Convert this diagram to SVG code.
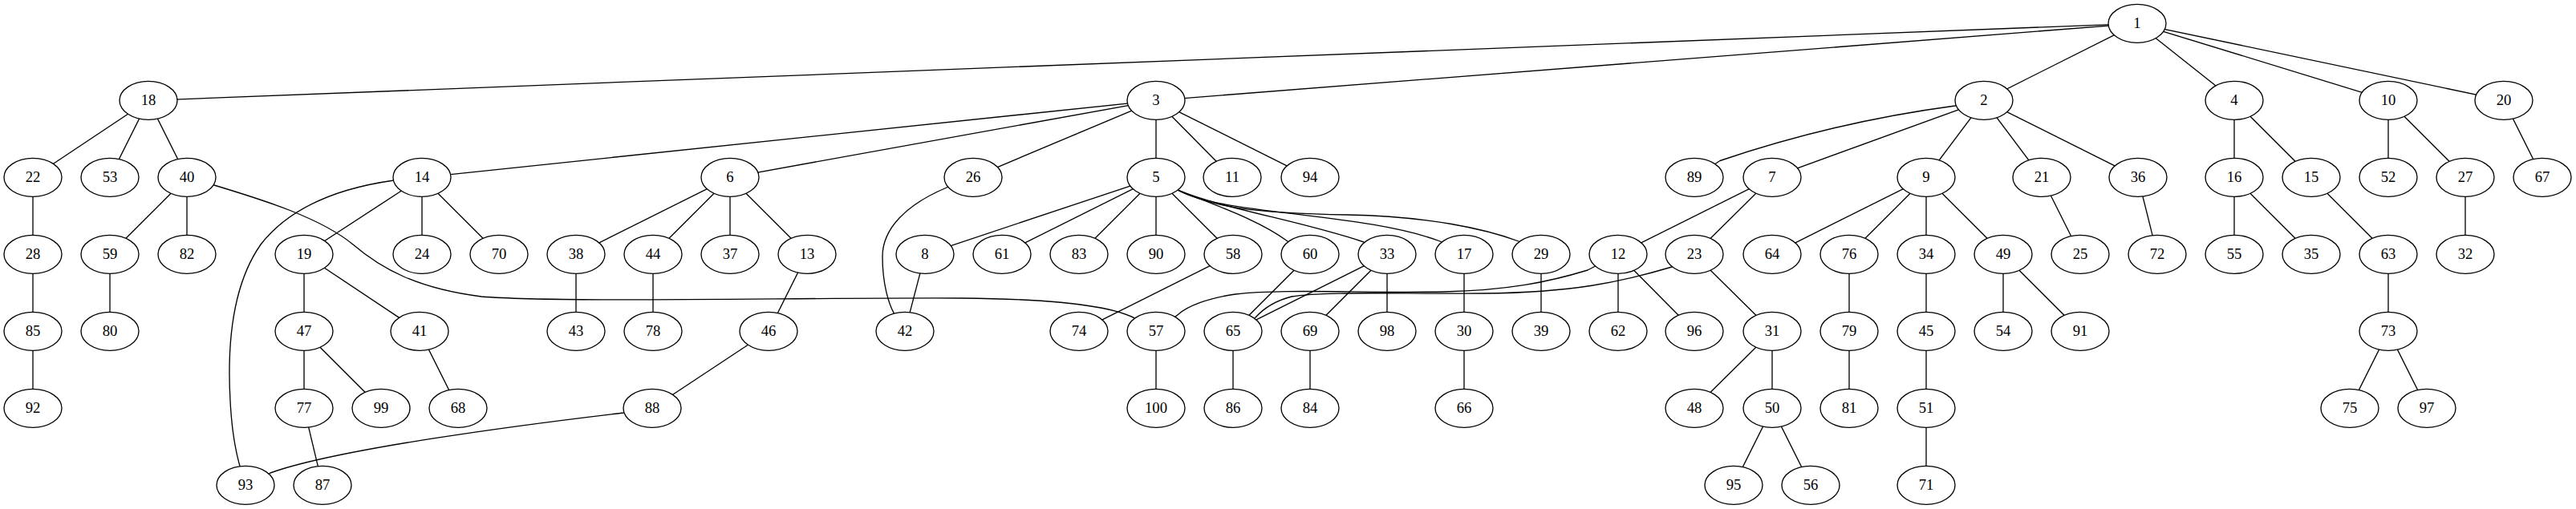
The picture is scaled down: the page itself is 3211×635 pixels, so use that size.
<svg xmlns="http://www.w3.org/2000/svg" width="3211" height="635" viewBox="0 0 3211 635">
<style>
.e path{fill:none;stroke:#000;stroke-width:1.33}
.n ellipse{fill:#fff;stroke:#000;stroke-width:1.33}
.n text{font-family:"Liberation Serif","Times New Roman",serif;font-size:18.67px;text-anchor:middle;fill:#000}
</style>
<rect width="3211" height="635" fill="#fff"/>
<g id="connectors" class="e">
<path d="M2664,29.3L185,125.3"/>
<path d="M2664,29.3L1441,125.3"/>
<path d="M2664,29.3L2473,125.3"/>
<path d="M2664,29.3L2785,125.3"/>
<path d="M2664,29.3L2977,125.3"/>
<path d="M2664,29.3L3121,125.3"/>
<path d="M185,125.3L41,221.3"/>
<path d="M185,125.3L137,221.3"/>
<path d="M185,125.3L233,221.3"/>
<path d="M1441,125.3L526,221.3"/>
<path d="M1441,125.3L910,221.3"/>
<path d="M1441,125.3L1213,221.3"/>
<path d="M1441,125.3L1441,221.3"/>
<path d="M1441,125.3L1536,221.3"/>
<path d="M1441,125.3L1633,221.3"/>
<path d="M2473,125.3L2437,132Q2287,152 2144,200.5L2112,221.3"/>
<path d="M2473,125.3L2209,221.3"/>
<path d="M2473,125.3L2401,221.3"/>
<path d="M2473,125.3L2545,221.3"/>
<path d="M2473,125.3L2665,221.3"/>
<path d="M2785,125.3L2785,221.3"/>
<path d="M2785,125.3L2881,221.3"/>
<path d="M2977,125.3L2977,221.3"/>
<path d="M2977,125.3L3073,221.3"/>
<path d="M3121,125.3L3169,221.3"/>
<path d="M41,221.3L41,317.3"/>
<path d="M41,317.3L41,413.3"/>
<path d="M41,413.3L41,509.3"/>
<path d="M233,221.3L137,317.3"/>
<path d="M233,221.3L233,317.3"/>
<path d="M233,221.3L267,231C330,250 400,272 440,305C475,335 520,360 600,370C700,378 1000,371 1200,372C1320,373 1390,382 1418,399L1441,413.3"/>
<path d="M137,317.3L137,413.3"/>
<path d="M526,221.3L379,317.3"/>
<path d="M526,221.3L526,317.3"/>
<path d="M526,221.3L622,317.3"/>
<path d="M526,221.3L491,225C420,235 360,260 325,305C290,355 283,430 287,500C289,540 294,565 300,585L306,605.3"/>
<path d="M379,317.3L379,413.3"/>
<path d="M379,317.3L523,413.3"/>
<path d="M379,413.3L379,509.3"/>
<path d="M379,413.3L475,509.3"/>
<path d="M379,509.3L402,605.3"/>
<path d="M523,413.3L571,509.3"/>
<path d="M910,221.3L718,317.3"/>
<path d="M910,221.3L814,317.3"/>
<path d="M910,221.3L910,317.3"/>
<path d="M910,221.3L1006,317.3"/>
<path d="M718,317.3L718,413.3"/>
<path d="M814,317.3L814,413.3"/>
<path d="M1006,317.3L958,413.3"/>
<path d="M958,413.3L813,509.3"/>
<path d="M813,509.3L777,515C650,530 420,560 337,590L306,605.3"/>
<path d="M1213,221.3L1180,234C1130,255 1100,285 1100,320C1100,355 1108,380 1115,392L1128,413.3"/>
<path d="M1441,221.3L1153,317.3"/>
<path d="M1441,221.3L1249,317.3"/>
<path d="M1441,221.3L1345,317.3"/>
<path d="M1441,221.3L1441,317.3"/>
<path d="M1441,221.3L1537,317.3"/>
<path d="M1441,221.3L1468,237C1520,258 1570,275 1605,301L1633,317.3"/>
<path d="M1441,221.3L1468,237C1530,262 1620,275 1700,302L1729,317.3"/>
<path d="M1441,221.3L1468,237C1520,268 1700,265 1795,301L1825,317.3"/>
<path d="M1441,221.3L1468,237C1510,258 1560,266 1680,268C1780,270 1850,285 1893,301L1921,317.3"/>
<path d="M1153,317.3L1128,413.3"/>
<path d="M1537,317.3L1345,413.3"/>
<path d="M1441,413.3L1441,509.3"/>
<path d="M1633,317.3L1537,413.3"/>
<path d="M1729,317.3L1537,413.3"/>
<path d="M1729,317.3L1633,413.3"/>
<path d="M1729,317.3L1729,413.3"/>
<path d="M1537,413.3L1537,509.3"/>
<path d="M1633,413.3L1633,509.3"/>
<path d="M1825,317.3L1825,413.3"/>
<path d="M1825,413.3L1825,509.3"/>
<path d="M1921,317.3L1921,413.3"/>
<path d="M2209,221.3L2017,317.3"/>
<path d="M2209,221.3L2112,317.3"/>
<path d="M2017,317.3L2017,413.3"/>
<path d="M2017,317.3L2112,413.3"/>
<path d="M2017,317.3L1979,337C1930,352 1880,362 1800,364C1700,366 1600,360 1540,367C1505,372 1480,382 1469,392L1441,413.3"/>
<path d="M2112,317.3L2084,333C2020,352 1960,365 1850,366C1750,367 1650,363 1610,370C1590,375 1575,385 1565,396L1537,413.3"/>
<path d="M2112,317.3L2209,413.3"/>
<path d="M2209,413.3L2112,509.3"/>
<path d="M2209,413.3L2209,509.3"/>
<path d="M2209,509.3L2161,605.3"/>
<path d="M2209,509.3L2257,605.3"/>
<path d="M2401,221.3L2209,317.3"/>
<path d="M2401,221.3L2305,317.3"/>
<path d="M2401,221.3L2401,317.3"/>
<path d="M2401,221.3L2497,317.3"/>
<path d="M2305,317.3L2305,413.3"/>
<path d="M2305,413.3L2305,509.3"/>
<path d="M2401,317.3L2401,413.3"/>
<path d="M2401,413.3L2401,509.3"/>
<path d="M2401,509.3L2401,605.3"/>
<path d="M2497,317.3L2497,413.3"/>
<path d="M2497,317.3L2593,413.3"/>
<path d="M2545,221.3L2593,317.3"/>
<path d="M2665,221.3L2689,317.3"/>
<path d="M2785,221.3L2785,317.3"/>
<path d="M2785,221.3L2881,317.3"/>
<path d="M2881,221.3L2977,317.3"/>
<path d="M2977,317.3L2977,413.3"/>
<path d="M2977,413.3L2929,509.3"/>
<path d="M2977,413.3L3025,509.3"/>
<path d="M3073,221.3L3073,317.3"/>
</g>
<g id="n1" class="n"><ellipse cx="2664" cy="29.3" rx="36" ry="24"/><text x="2664" y="35.3">1</text></g>
<g id="n18" class="n"><ellipse cx="185" cy="125.3" rx="36" ry="24"/><text x="185" y="131.3">18</text></g>
<g id="n3" class="n"><ellipse cx="1441" cy="125.3" rx="36" ry="24"/><text x="1441" y="131.3">3</text></g>
<g id="n2" class="n"><ellipse cx="2473" cy="125.3" rx="36" ry="24"/><text x="2473" y="131.3">2</text></g>
<g id="n4" class="n"><ellipse cx="2785" cy="125.3" rx="36" ry="24"/><text x="2785" y="131.3">4</text></g>
<g id="n10" class="n"><ellipse cx="2977" cy="125.3" rx="36" ry="24"/><text x="2977" y="131.3">10</text></g>
<g id="n20" class="n"><ellipse cx="3121" cy="125.3" rx="36" ry="24"/><text x="3121" y="131.3">20</text></g>
<g id="n22" class="n"><ellipse cx="41" cy="221.3" rx="36" ry="24"/><text x="41" y="227.3">22</text></g>
<g id="n53" class="n"><ellipse cx="137" cy="221.3" rx="36" ry="24"/><text x="137" y="227.3">53</text></g>
<g id="n40" class="n"><ellipse cx="233" cy="221.3" rx="36" ry="24"/><text x="233" y="227.3">40</text></g>
<g id="n14" class="n"><ellipse cx="526" cy="221.3" rx="36" ry="24"/><text x="526" y="227.3">14</text></g>
<g id="n6" class="n"><ellipse cx="910" cy="221.3" rx="36" ry="24"/><text x="910" y="227.3">6</text></g>
<g id="n26" class="n"><ellipse cx="1213" cy="221.3" rx="36" ry="24"/><text x="1213" y="227.3">26</text></g>
<g id="n5" class="n"><ellipse cx="1441" cy="221.3" rx="36" ry="24"/><text x="1441" y="227.3">5</text></g>
<g id="n11" class="n"><ellipse cx="1536" cy="221.3" rx="36" ry="24"/><text x="1536" y="227.3">11</text></g>
<g id="n94" class="n"><ellipse cx="1633" cy="221.3" rx="36" ry="24"/><text x="1633" y="227.3">94</text></g>
<g id="n89" class="n"><ellipse cx="2112" cy="221.3" rx="36" ry="24"/><text x="2112" y="227.3">89</text></g>
<g id="n7" class="n"><ellipse cx="2209" cy="221.3" rx="36" ry="24"/><text x="2209" y="227.3">7</text></g>
<g id="n9" class="n"><ellipse cx="2401" cy="221.3" rx="36" ry="24"/><text x="2401" y="227.3">9</text></g>
<g id="n21" class="n"><ellipse cx="2545" cy="221.3" rx="36" ry="24"/><text x="2545" y="227.3">21</text></g>
<g id="n36" class="n"><ellipse cx="2665" cy="221.3" rx="36" ry="24"/><text x="2665" y="227.3">36</text></g>
<g id="n16" class="n"><ellipse cx="2785" cy="221.3" rx="36" ry="24"/><text x="2785" y="227.3">16</text></g>
<g id="n15" class="n"><ellipse cx="2881" cy="221.3" rx="36" ry="24"/><text x="2881" y="227.3">15</text></g>
<g id="n52" class="n"><ellipse cx="2977" cy="221.3" rx="36" ry="24"/><text x="2977" y="227.3">52</text></g>
<g id="n27" class="n"><ellipse cx="3073" cy="221.3" rx="36" ry="24"/><text x="3073" y="227.3">27</text></g>
<g id="n67" class="n"><ellipse cx="3169" cy="221.3" rx="36" ry="24"/><text x="3169" y="227.3">67</text></g>
<g id="n28" class="n"><ellipse cx="41" cy="317.3" rx="36" ry="24"/><text x="41" y="323.3">28</text></g>
<g id="n59" class="n"><ellipse cx="137" cy="317.3" rx="36" ry="24"/><text x="137" y="323.3">59</text></g>
<g id="n82" class="n"><ellipse cx="233" cy="317.3" rx="36" ry="24"/><text x="233" y="323.3">82</text></g>
<g id="n19" class="n"><ellipse cx="379" cy="317.3" rx="36" ry="24"/><text x="379" y="323.3">19</text></g>
<g id="n24" class="n"><ellipse cx="526" cy="317.3" rx="36" ry="24"/><text x="526" y="323.3">24</text></g>
<g id="n70" class="n"><ellipse cx="622" cy="317.3" rx="36" ry="24"/><text x="622" y="323.3">70</text></g>
<g id="n38" class="n"><ellipse cx="718" cy="317.3" rx="36" ry="24"/><text x="718" y="323.3">38</text></g>
<g id="n44" class="n"><ellipse cx="814" cy="317.3" rx="36" ry="24"/><text x="814" y="323.3">44</text></g>
<g id="n37" class="n"><ellipse cx="910" cy="317.3" rx="36" ry="24"/><text x="910" y="323.3">37</text></g>
<g id="n13" class="n"><ellipse cx="1006" cy="317.3" rx="36" ry="24"/><text x="1006" y="323.3">13</text></g>
<g id="n8" class="n"><ellipse cx="1153" cy="317.3" rx="36" ry="24"/><text x="1153" y="323.3">8</text></g>
<g id="n61" class="n"><ellipse cx="1249" cy="317.3" rx="36" ry="24"/><text x="1249" y="323.3">61</text></g>
<g id="n83" class="n"><ellipse cx="1345" cy="317.3" rx="36" ry="24"/><text x="1345" y="323.3">83</text></g>
<g id="n90" class="n"><ellipse cx="1441" cy="317.3" rx="36" ry="24"/><text x="1441" y="323.3">90</text></g>
<g id="n58" class="n"><ellipse cx="1537" cy="317.3" rx="36" ry="24"/><text x="1537" y="323.3">58</text></g>
<g id="n60" class="n"><ellipse cx="1633" cy="317.3" rx="36" ry="24"/><text x="1633" y="323.3">60</text></g>
<g id="n33" class="n"><ellipse cx="1729" cy="317.3" rx="36" ry="24"/><text x="1729" y="323.3">33</text></g>
<g id="n17" class="n"><ellipse cx="1825" cy="317.3" rx="36" ry="24"/><text x="1825" y="323.3">17</text></g>
<g id="n29" class="n"><ellipse cx="1921" cy="317.3" rx="36" ry="24"/><text x="1921" y="323.3">29</text></g>
<g id="n12" class="n"><ellipse cx="2017" cy="317.3" rx="36" ry="24"/><text x="2017" y="323.3">12</text></g>
<g id="n23" class="n"><ellipse cx="2112" cy="317.3" rx="36" ry="24"/><text x="2112" y="323.3">23</text></g>
<g id="n64" class="n"><ellipse cx="2209" cy="317.3" rx="36" ry="24"/><text x="2209" y="323.3">64</text></g>
<g id="n76" class="n"><ellipse cx="2305" cy="317.3" rx="36" ry="24"/><text x="2305" y="323.3">76</text></g>
<g id="n34" class="n"><ellipse cx="2401" cy="317.3" rx="36" ry="24"/><text x="2401" y="323.3">34</text></g>
<g id="n49" class="n"><ellipse cx="2497" cy="317.3" rx="36" ry="24"/><text x="2497" y="323.3">49</text></g>
<g id="n25" class="n"><ellipse cx="2593" cy="317.3" rx="36" ry="24"/><text x="2593" y="323.3">25</text></g>
<g id="n72" class="n"><ellipse cx="2689" cy="317.3" rx="36" ry="24"/><text x="2689" y="323.3">72</text></g>
<g id="n55" class="n"><ellipse cx="2785" cy="317.3" rx="36" ry="24"/><text x="2785" y="323.3">55</text></g>
<g id="n35" class="n"><ellipse cx="2881" cy="317.3" rx="36" ry="24"/><text x="2881" y="323.3">35</text></g>
<g id="n63" class="n"><ellipse cx="2977" cy="317.3" rx="36" ry="24"/><text x="2977" y="323.3">63</text></g>
<g id="n32" class="n"><ellipse cx="3073" cy="317.3" rx="36" ry="24"/><text x="3073" y="323.3">32</text></g>
<g id="n85" class="n"><ellipse cx="41" cy="413.3" rx="36" ry="24"/><text x="41" y="419.3">85</text></g>
<g id="n80" class="n"><ellipse cx="137" cy="413.3" rx="36" ry="24"/><text x="137" y="419.3">80</text></g>
<g id="n47" class="n"><ellipse cx="379" cy="413.3" rx="36" ry="24"/><text x="379" y="419.3">47</text></g>
<g id="n41" class="n"><ellipse cx="523" cy="413.3" rx="36" ry="24"/><text x="523" y="419.3">41</text></g>
<g id="n43" class="n"><ellipse cx="718" cy="413.3" rx="36" ry="24"/><text x="718" y="419.3">43</text></g>
<g id="n78" class="n"><ellipse cx="814" cy="413.3" rx="36" ry="24"/><text x="814" y="419.3">78</text></g>
<g id="n46" class="n"><ellipse cx="958" cy="413.3" rx="36" ry="24"/><text x="958" y="419.3">46</text></g>
<g id="n42" class="n"><ellipse cx="1128" cy="413.3" rx="36" ry="24"/><text x="1128" y="419.3">42</text></g>
<g id="n74" class="n"><ellipse cx="1345" cy="413.3" rx="36" ry="24"/><text x="1345" y="419.3">74</text></g>
<g id="n57" class="n"><ellipse cx="1441" cy="413.3" rx="36" ry="24"/><text x="1441" y="419.3">57</text></g>
<g id="n65" class="n"><ellipse cx="1537" cy="413.3" rx="36" ry="24"/><text x="1537" y="419.3">65</text></g>
<g id="n69" class="n"><ellipse cx="1633" cy="413.3" rx="36" ry="24"/><text x="1633" y="419.3">69</text></g>
<g id="n98" class="n"><ellipse cx="1729" cy="413.3" rx="36" ry="24"/><text x="1729" y="419.3">98</text></g>
<g id="n30" class="n"><ellipse cx="1825" cy="413.3" rx="36" ry="24"/><text x="1825" y="419.3">30</text></g>
<g id="n39" class="n"><ellipse cx="1921" cy="413.3" rx="36" ry="24"/><text x="1921" y="419.3">39</text></g>
<g id="n62" class="n"><ellipse cx="2017" cy="413.3" rx="36" ry="24"/><text x="2017" y="419.3">62</text></g>
<g id="n96" class="n"><ellipse cx="2112" cy="413.3" rx="36" ry="24"/><text x="2112" y="419.3">96</text></g>
<g id="n31" class="n"><ellipse cx="2209" cy="413.3" rx="36" ry="24"/><text x="2209" y="419.3">31</text></g>
<g id="n79" class="n"><ellipse cx="2305" cy="413.3" rx="36" ry="24"/><text x="2305" y="419.3">79</text></g>
<g id="n45" class="n"><ellipse cx="2401" cy="413.3" rx="36" ry="24"/><text x="2401" y="419.3">45</text></g>
<g id="n54" class="n"><ellipse cx="2497" cy="413.3" rx="36" ry="24"/><text x="2497" y="419.3">54</text></g>
<g id="n91" class="n"><ellipse cx="2593" cy="413.3" rx="36" ry="24"/><text x="2593" y="419.3">91</text></g>
<g id="n73" class="n"><ellipse cx="2977" cy="413.3" rx="36" ry="24"/><text x="2977" y="419.3">73</text></g>
<g id="n92" class="n"><ellipse cx="41" cy="509.3" rx="36" ry="24"/><text x="41" y="515.3">92</text></g>
<g id="n77" class="n"><ellipse cx="379" cy="509.3" rx="36" ry="24"/><text x="379" y="515.3">77</text></g>
<g id="n99" class="n"><ellipse cx="475" cy="509.3" rx="36" ry="24"/><text x="475" y="515.3">99</text></g>
<g id="n68" class="n"><ellipse cx="571" cy="509.3" rx="36" ry="24"/><text x="571" y="515.3">68</text></g>
<g id="n88" class="n"><ellipse cx="813" cy="509.3" rx="36" ry="24"/><text x="813" y="515.3">88</text></g>
<g id="n100" class="n"><ellipse cx="1441" cy="509.3" rx="36" ry="24"/><text x="1441" y="515.3">100</text></g>
<g id="n86" class="n"><ellipse cx="1537" cy="509.3" rx="36" ry="24"/><text x="1537" y="515.3">86</text></g>
<g id="n84" class="n"><ellipse cx="1633" cy="509.3" rx="36" ry="24"/><text x="1633" y="515.3">84</text></g>
<g id="n66" class="n"><ellipse cx="1825" cy="509.3" rx="36" ry="24"/><text x="1825" y="515.3">66</text></g>
<g id="n48" class="n"><ellipse cx="2112" cy="509.3" rx="36" ry="24"/><text x="2112" y="515.3">48</text></g>
<g id="n50" class="n"><ellipse cx="2209" cy="509.3" rx="36" ry="24"/><text x="2209" y="515.3">50</text></g>
<g id="n81" class="n"><ellipse cx="2305" cy="509.3" rx="36" ry="24"/><text x="2305" y="515.3">81</text></g>
<g id="n51" class="n"><ellipse cx="2401" cy="509.3" rx="36" ry="24"/><text x="2401" y="515.3">51</text></g>
<g id="n75" class="n"><ellipse cx="2929" cy="509.3" rx="36" ry="24"/><text x="2929" y="515.3">75</text></g>
<g id="n97" class="n"><ellipse cx="3025" cy="509.3" rx="36" ry="24"/><text x="3025" y="515.3">97</text></g>
<g id="n93" class="n"><ellipse cx="306" cy="605.3" rx="36" ry="24"/><text x="306" y="611.3">93</text></g>
<g id="n87" class="n"><ellipse cx="402" cy="605.3" rx="36" ry="24"/><text x="402" y="611.3">87</text></g>
<g id="n95" class="n"><ellipse cx="2161" cy="605.3" rx="36" ry="24"/><text x="2161" y="611.3">95</text></g>
<g id="n56" class="n"><ellipse cx="2257" cy="605.3" rx="36" ry="24"/><text x="2257" y="611.3">56</text></g>
<g id="n71" class="n"><ellipse cx="2401" cy="605.3" rx="36" ry="24"/><text x="2401" y="611.3">71</text></g>
</svg>
